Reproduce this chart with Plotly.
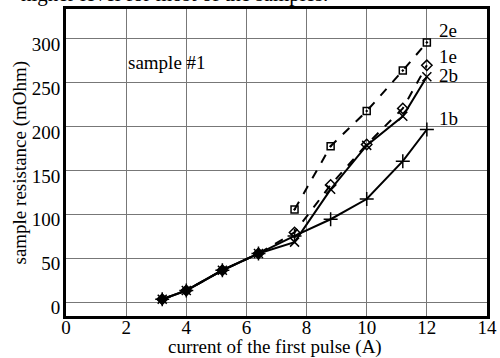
import plotly.graph_objects as go

x_low = [3.2, 4.0, 5.2, 6.4]
y_low = [4, 14, 37, 56]

x_1b = [3.2, 4.0, 5.2, 6.4, 7.6, 8.8, 10.0, 11.2, 12.0]
y_1b = [4, 14, 37, 56, 76, 95, 118, 161, 197]

x_2b = [3.2, 4.0, 5.2, 6.4, 7.6, 8.8, 10.0, 11.2, 12.0]
y_2b = [4, 14, 37, 56, 69, 129, 179, 212, 257]

x_1e = [3.2, 4.0, 5.2, 6.4, 7.6, 8.8, 10.0, 11.2, 12.0]
y_1e = [4, 14, 37, 56, 80, 134, 180, 221, 270]

x_2e = [7.6, 8.8, 10.0, 11.2, 12.0]
y_2e = [106, 178, 218, 264, 296]

labels = ["2e", "1e", "2b", "1b"]
label_y = [310, 280, 258, 210]

x_ticks = [0, 2, 4, 6, 8, 10, 12, 14]
y_ticks = [0, 50, 100, 150, 200, 250, 300]

FONT = "Liberation Serif"

fig = go.Figure()

def add(xs, ys, dash, symbol, size, name):
    fig.add_trace(go.Scatter(
        x=xs, y=ys, mode="lines+markers", name=name,
        line=dict(color="black", width=2, dash=dash),
        marker=dict(symbol=symbol, size=size, color="black",
                    line=dict(color="black", width=1.5)),
        showlegend=False,
    ))

add(x_1b, y_1b, "solid", "cross-thin", 10, "1b")
add(x_2b, y_2b, "solid", "x-thin", 9, "2b")
add(x_1e, y_1e, "dash", "diamond-open", 8, "1e")
add(x_2e, y_2e, "dash", "square-open-dot", 7, "2e")
fig.add_trace(go.Scatter(x=x_low, y=y_low, mode="markers", showlegend=False,
                         marker=dict(symbol="diamond", size=9, color="black")))

for t, yy in zip(labels, label_y):
    fig.add_annotation(x=12.33, y=yy, text=t, showarrow=False, xanchor="left",
                       yanchor="middle", font=dict(family=FONT, size=19, color="black"))

fig.add_annotation(x=2.0, y=273, text="sample #1", showarrow=False, xanchor="left",
                   yanchor="middle", font=dict(family=FONT, size=19, color="black"))

fig.add_annotation(xref="paper", yref="paper", x=0.627, y=1.0, yshift=1,
                   text="higher level for most of the samples.",
                   showarrow=False, xanchor="right", yanchor="bottom",
                   font=dict(family=FONT, size=21, color="black"))

# axis titles
fig.add_annotation(xref="paper", yref="paper", x=0.4976, y=-0.111, yshift=3,
                   text="current of the first pulse (A)", showarrow=False,
                   xanchor="center", yanchor="middle",
                   font=dict(family=FONT, size=19, color="black"))
fig.add_annotation(xref="paper", yref="paper", x=-0.1116, y=0.5,
                   text="sample resistance (mOhm)", showarrow=False, textangle=-90,
                   xanchor="center", yanchor="middle",
                   font=dict(family=FONT, size=19, color="black"))

fig.update_xaxes(range=[0, 14], tickvals=x_ticks, ticktext=[str(v) for v in x_ticks],
                 showgrid=True, gridcolor="#777", gridwidth=1, zeroline=False,
                 showline=True, linecolor="black", linewidth=3, mirror=True,
                 ticks="", automargin=False, ticklabelstandoff=-8,
                 tickfont=dict(family=FONT, size=19, color="black"))
fig.update_yaxes(range=[-15, 334], tickvals=y_ticks, ticktext=[str(v) for v in y_ticks],
                 showgrid=True, gridcolor="#777", gridwidth=1, zeroline=False,
                 showline=True, linecolor="black", linewidth=3, mirror=True,
                 ticks="", automargin=False, ticklabelstandoff=-1, ticklabelshift=5,
                 tickfont=dict(family=FONT, size=19, color="black"))

fig.update_layout(width=500, height=358, margin=dict(l=66, r=13, t=9, b=42),
                  plot_bgcolor="white", paper_bgcolor="white")

fig.write_html("out.html")
